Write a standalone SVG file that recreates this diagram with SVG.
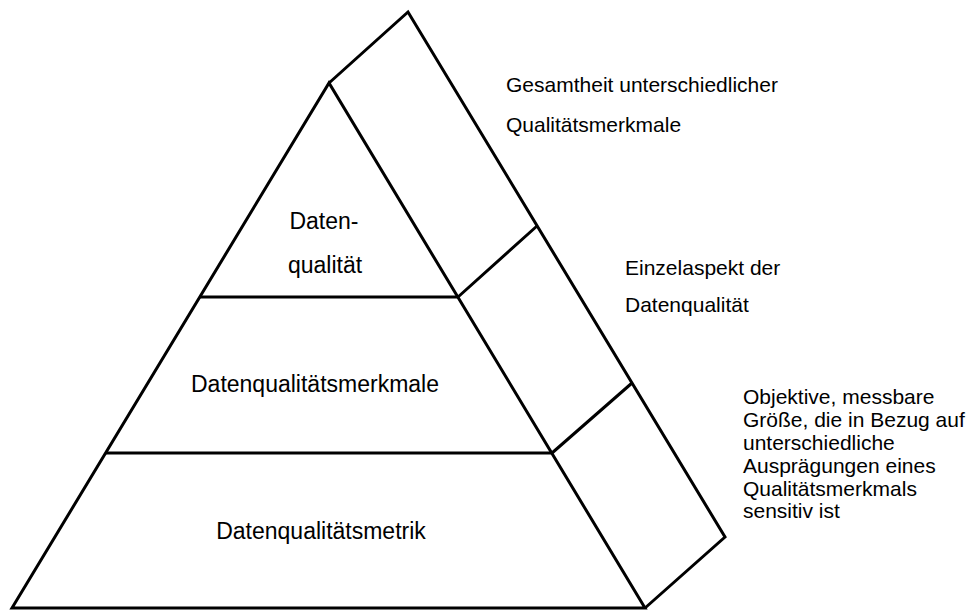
<svg xmlns="http://www.w3.org/2000/svg" width="972" height="610" viewBox="0 0 972 610">
<style>
.ln{fill:none;stroke:#000;stroke-width:3;stroke-linejoin:miter;stroke-linecap:butt}
.lbl{font-family:"Liberation Sans",Arial,sans-serif;font-size:23px;fill:#000;text-anchor:middle}
.note{font-family:"Liberation Sans",Arial,sans-serif;font-size:21px;fill:#000}
</style>
<rect width="972" height="610" fill="#fff"/>
<g id="pyramid">
<path class="ln" d="M12,608 L329,83 L645,608 Z"/>
<path class="ln" d="M200,297 L458,297 M106,453 L552,453"/>
</g>
<g id="side-face">
<path class="ln" d="M329,83 L408,12 L725,537 L645,608"/>
<path class="ln" d="M458,297 L537,226 M552,453 L632,383"/>
</g>
<g id="layer-top">
<text class="lbl" x="324" y="229">Daten-</text>
<text class="lbl" x="325" y="273">qualität</text>
</g>
<g id="layer-middle">
<text class="lbl" x="315" y="392">Datenqualitätsmerkmale</text>
</g>
<g id="layer-bottom">
<text class="lbl" x="321" y="539">Datenqualitätsmetrik</text>
</g>
<g id="note-top">
<text class="note" x="506" y="92">Gesamtheit unterschiedlicher</text>
<text class="note" x="506" y="132">Qualitätsmerkmale</text>
</g>
<g id="note-middle">
<text class="note" x="625" y="275">Einzelaspekt der</text>
<text class="note" x="625" y="312">Datenqualität</text>
</g>
<g id="note-bottom">
<text class="note" x="743" y="404">Objektive, messbare</text>
<text class="note" x="743" y="427">Größe, die in Bezug auf</text>
<text class="note" x="743" y="450">unterschiedliche</text>
<text class="note" x="743" y="473">Ausprägungen eines</text>
<text class="note" x="743" y="496">Qualitätsmerkmals</text>
<text class="note" x="743" y="518">sensitiv ist</text>
</g>
</svg>
